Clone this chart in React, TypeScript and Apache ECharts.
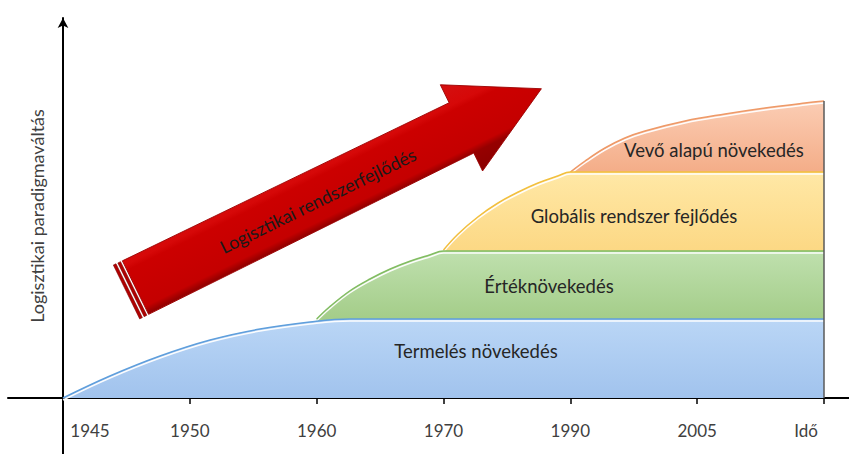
import { useEffect, useRef } from 'react';
import * as echarts from 'echarts';

// X axis: period positions and their labels
const tickPositions = [0, 1, 2, 3, 4, 5, 6];
const xTickLabels = ['1945', '1950', '1960', '1970', '1990', '2005', 'Idő'];

// Cumulative top edge of each band: [period position, level]
const termelesData = [[0, 0], [0.37, 22], [0.765, 42], [1.16, 58], [1.553, 69], [1.947, 76], [2.26, 79], [6, 79]];
const ertekData = [[2.0, 79], [2.1, 91], [2.26, 107], [2.42, 119], [2.58, 129], [2.74, 137], [2.89, 143], [3.0, 147], [6, 147]];
const globalisData = [[3.0, 148], [3.115, 164], [3.27, 181], [3.43, 195], [3.59, 206], [3.745, 215], [3.9, 222], [4.0, 226], [6, 226]];
const vevoData = [[4.0, 226], [4.116, 237], [4.273, 250], [4.43, 260], [4.588, 267], [4.904, 277], [5.22, 284], [5.535, 290], [5.85, 295], [6, 297]];

const bandNames = ['Termelés növekedés', 'Értéknövekedés', 'Globális rendszer fejlődés', 'Vevő alapú növekedés'];
const yTitle = 'Logisztikai paradigmaváltás';
const arrowTitle = 'Logisztikai rendszerfejlődés';

const FONT = 'Lato, "Open Sans", sans-serif';

const maxOf = (d: number[][]) => Math.max(...d.map((p) => p[1]));

export default function App() {
  const ref = useRef<HTMLDivElement>(null);
  useEffect(() => {
    const chart = echarts.init(ref.current!, undefined, { renderer: 'svg' });

    const bands = [
      { name: bandNames[3], data: vevoData, lower: globalisData, top: '#fbcdb4', bottom: '#f4ad88', line: '#ee9a68' },
      { name: bandNames[2], data: globalisData, lower: ertekData, top: '#ffe8a6', bottom: '#fcd884', line: '#f2c03e' },
      { name: bandNames[1], data: ertekData, lower: termelesData, top: '#bfe0ae', bottom: '#a4cd89', line: '#82bd62' },
      { name: bandNames[0], data: termelesData, lower: null as number[][] | null, top: '#bad6f6', bottom: '#a1c3ed', line: '#5f9fdc' },
    ];

    const series: any[] = bands.map((b, i) => {
      const t = maxOf(b.data);
      const l = b.lower ? maxOf(b.lower) : 0;
      const f = Math.min(1, Math.max(0.01, (t - l) / t));
      const s: any = {
        type: 'line',
        name: b.name,
        data: b.data,
        smooth: 0.4,
        symbol: 'none',
        silent: true,
        lineStyle: {
          color: b.line,
          width: 1.5,
          shadowColor: 'rgba(255,255,255,0.95)',
          shadowBlur: 1,
          shadowOffsetY: 2,
        },
        areaStyle: {
          opacity: 1,
          color: {
            type: 'linear', x: 0, y: 0, x2: 0, y2: 1,
            colorStops: [
              { offset: 0, color: b.top },
              { offset: f, color: b.bottom },
              { offset: 1, color: b.bottom },
            ],
          },
        },
        z: 2 + i,
      };
      if (i === 0) {
        s.markLine = {
          silent: true,
          symbol: 'none',
          label: { show: false },
          lineStyle: { color: '#5a5a5a', width: 1.5, type: 'solid' },
          data: [[{ coord: [6, 0] }, { coord: [6, vevoData[vevoData.length - 1][1]] }]],
          z: 10,
        };
      }
      return s;
    });

    const textStyle = (size: number, color: string) => ({
      fontSize: size,
      fontFamily: FONT,
      fill: color,
      textAlign: 'center',
      textVerticalAlign: 'middle',
    });

    const bandLabelPos = [[476, 351], [549, 286], [634, 216], [714, 150]];

    const graphic: any[] = [
      {
        type: 'text',
        x: 37,
        y: 216,
        rotation: Math.PI / 2,
        style: { text: yTitle, ...textStyle(18, '#404040') },
      },
      ...bandNames.map((n, i) => ({
        type: 'text',
        x: bandLabelPos[i][0],
        y: bandLabelPos[i][1],
        z: 100,
        style: { text: n, ...textStyle(18.5, '#262626') },
      })),
      {
        type: 'group',
        x: 126.5,
        y: 292,
        rotation: (26.1 * Math.PI) / 180,
        z: 100,
        children: [
          {
            type: 'polygon',
            shape: { points: [[10, -29.8], [373, -28], [373, -48], [462, 0], [373, 48], [373, 28], [10, 29.8]] },
            style: {
              fill: {
                type: 'linear', x: 0, y: 0, x2: 0, y2: 1,
                colorStops: [
                  { offset: 0, color: '#d41010' },
                  { offset: 0.24, color: '#d60808' },
                  { offset: 0.3, color: '#cc0000' },
                  { offset: 0.72, color: '#c40000' },
                  { offset: 0.79, color: '#960000' },
                  { offset: 1, color: '#8a0000' },
                ],
              },
              stroke: '#9a0000',
              lineWidth: 0.8,
            },
          },
          { type: 'rect', shape: { x: 0, y: -30, width: 3, height: 60 }, style: { fill: '#b00000', stroke: '#7a0000', lineWidth: 0.5 } },
          { type: 'rect', shape: { x: 5, y: -29.9, width: 3, height: 59.8 }, style: { fill: '#b00000', stroke: '#7a0000', lineWidth: 0.5 } },
          {
            type: 'text',
            x: 212,
            y: 2,
            style: { text: arrowTitle, ...textStyle(18, '#1a1a1a') },
          },
        ],
      },
    ];

    const unit = (824 - 63) / 6;
    const lastIdx = tickPositions.length - 1;

    chart.setOption({
      animation: false,
      backgroundColor: '#ffffff',
      grid: { left: 8, right: 0, top: 18, bottom: 0, containLabel: false, outerBoundsMode: 'none' },
      xAxis: {
        type: 'value',
        min: -(63 - 8) / unit,
        max: 6 + (849 - 824) / unit,
        axisLine: { show: true, onZero: true, lineStyle: { color: '#000', width: 2 } },
        axisTick: { show: true, customValues: tickPositions.slice(1), length: 6, lineStyle: { color: '#000', width: 1.5 } },
        axisLabel: {
          show: true,
          customValues: tickPositions,
          margin: -32,
          fontSize: 17,
          fontFamily: FONT,
          color: '#404040',
          formatter: (v: number) => {
            const i = tickPositions.indexOf(Math.round(v));
            const s = i >= 0 ? xTickLabels[i] : '';
            if (i === 0) return `{first|${s}}`;
            if (i === lastIdx) return `{last|${s}}`;
            return s;
          },
          rich: {
            first: { padding: [0, 0, 0, 54], fontSize: 17, fontFamily: FONT, color: '#404040' },
            last: { padding: [0, 36, 0, 0], fontSize: 17, fontFamily: FONT, color: '#404040' },
          },
        },
        splitLine: { show: false },
      },
      yAxis: {
        type: 'value',
        min: -56,
        max: 380,
        axisLine: {
          show: true,
          onZero: true,
          symbol: ['none', 'arrow'],
          symbolSize: [8, 10],
          lineStyle: { color: '#000', width: 2 },
        },
        axisTick: { show: false },
        axisLabel: { show: false },
        splitLine: { show: false },
      },
      series,
      graphic,
    });

    return () => chart.dispose();
  }, []);

  return <div ref={ref} style={{ position: 'fixed', left: 0, top: 0, width: 849, height: 454 }} />;
}
